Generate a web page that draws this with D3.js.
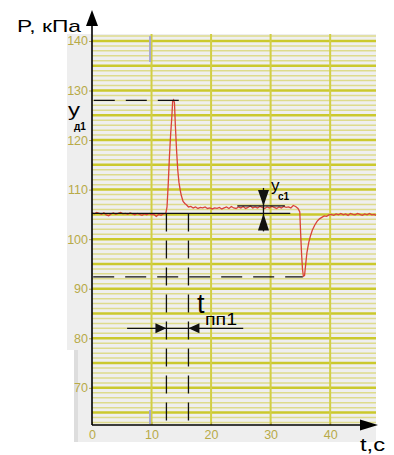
<!DOCTYPE html>
<html>
<head>
<meta charset="utf-8">
<script src="https://cdn.jsdelivr.net/npm/d3@7"></script>
<style>
  body { margin: 0; background: #fff; }
  text { font-family: "Liberation Sans", Arial, sans-serif; }
</style>
</head>
<body>
<svg id="chart"></svg>
<script>
// pressure trace, t in s, P in kPa
const timeValues = [
  0, 0.4, 0.8, 1.2, 1.6, 2.0, 2.4, 2.8, 3.2, 3.6, 4.0, 4.4, 4.8, 5.2, 5.6, 6.0, 6.4, 6.8, 7.2, 7.6,
  8.0, 8.4, 8.8, 9.2, 9.6, 10.0, 10.4, 10.8, 11.2, 11.6, 12.0, 12.4, 12.6, 12.8, 13.0, 13.2, 13.4, 13.55, 13.7, 13.85,
  14.0, 14.2, 14.4, 14.6, 14.8, 15.0, 15.3, 15.6, 15.9, 16.2, 16.6, 17.0, 17.4, 17.8, 18.2, 18.6, 19.0, 19.4, 19.8, 20.2,
  20.6, 21.0, 21.4, 21.8, 22.2, 22.6, 23.0, 23.4, 23.8, 24.2, 24.6, 25.0, 25.4, 25.8, 26.2, 26.6, 27.0, 27.4, 27.8, 28.2,
  28.6, 29.0, 29.4, 29.8, 30.2, 30.6, 31.0, 31.4, 31.8, 32.2, 32.6, 33.0, 33.4, 33.8, 34.2, 34.6, 34.9, 35.05, 35.2, 35.35,
  35.5, 35.7, 35.9, 36.1, 36.4, 36.7, 37.0, 37.4, 37.8, 38.2, 38.6, 39.0, 39.4, 39.8, 40.2, 40.6, 41.0, 41.4, 41.8, 42.2,
  42.6, 43.0, 43.4, 43.8, 44.2, 44.6, 45.0, 45.4, 45.8, 46.2, 46.6, 47.0, 47.4, 47.7
];
const pressureValues = [
  105.3, 105.1, 105.4, 105.2, 105.0, 105.3, 104.9, 104.7, 105.1, 105.3, 105.0, 105.2, 105.4, 105.1, 105.2, 105.0, 105.3, 105.1, 104.9, 105.2,
  105.0, 104.8, 105.1, 104.9, 105.2, 104.9, 105.0, 104.6, 105.0, 104.8, 105.1, 105.2, 106.5, 111.0, 116.5, 121.0, 124.5, 127.9, 128.1, 127.5,
  123.0, 118.0, 114.0, 111.5, 110.0, 108.8, 107.6, 107.2, 106.9, 106.5, 106.6, 106.3, 106.5, 106.2, 106.4, 106.3, 106.5, 106.2, 106.3, 106.1,
  106.3, 106.2, 106.4, 106.1, 106.3, 106.5, 106.2, 106.6, 106.3, 106.2, 106.5, 106.3, 106.6, 106.2, 106.4, 106.7, 106.3, 106.5, 106.3, 106.6,
  106.4, 106.2, 106.5, 106.3, 106.6, 106.4, 106.2, 106.5, 106.3, 106.6, 106.4, 106.5, 106.3, 106.8, 106.6, 106.2, 105.5, 101.0, 97.0, 94.0,
  92.5, 92.7, 95.0, 97.3, 99.3, 100.7, 101.8, 102.8, 103.6, 104.1, 104.4, 104.7, 104.6, 104.9, 105.0, 104.8, 105.1, 104.9, 105.2, 104.9,
  105.1, 104.8, 105.2, 105.0, 104.9, 105.2, 105.0, 104.8, 105.1, 104.9, 105.2, 104.9, 105.0, 104.8
];
const yTicks = [70, 80, 90, 100, 110, 120, 130, 140];
const xTicks = [0, 10, 20, 30, 40];

// annotation levels
const peakLevel = 128;
const baseLevel = 105.2;
const settleLevel = 106.7;
const dropLevel = 92.4;
const tStart = 12.5;
const tEnd = 16.2;
const tArrow = 28.8;
const arrowLevel = 82;

const width = 394;
const height = 455;

const svg = d3.select("#chart")
  .attr("width", width)
  .attr("height", height);

const x = d3.scaleLinear().domain([0, 47.7]).range([92, 376]);
const y = d3.scaleLinear().domain([62.5, 141.4]).range([425, 34]);

// grey panel behind the plot
svg.append("rect").attr("x", 67).attr("y", 34).attr("width", 25).attr("height", 316).attr("fill", "#eeeeee");
svg.append("rect").attr("x", 74).attr("y", 350).attr("width", 18).attr("height", 92).attr("fill", "#eeeeee");
svg.append("rect").attr("x", 74).attr("y", 350).attr("width", 4).attr("height", 92).attr("fill", "#dddddd");
svg.append("rect").attr("x", 92).attr("y", 425).attr("width", 284).attr("height", 17).attr("fill", "#eeeeee");
svg.append("rect")
  .attr("x", x(0)).attr("y", y(141.4))
  .attr("width", x(47.7) - x(0)).attr("height", y(62.5) - y(141.4))
  .attr("fill", "#efefef");

// horizontal grid every 1 kPa, heavier every 5
const gridLevels = d3.range(63, 142);
svg.append("g")
  .selectAll("line")
  .data(gridLevels)
  .join("line")
  .attr("x1", x(0))
  .attr("x2", x(47.7))
  .attr("y1", d => y(d))
  .attr("y2", d => y(d))
  .attr("stroke", d => d % 5 === 0 ? "#cbc92c" : "#dedb8c")
  .attr("stroke-width", d => d % 5 === 0 ? 2.5 : 1.5);

// vertical grid
svg.append("g")
  .selectAll("line")
  .data(xTicks.slice(1))
  .join("line")
  .attr("x1", d => x(d))
  .attr("x2", d => x(d))
  .attr("y1", y(141.4))
  .attr("y2", y(62.5))
  .attr("stroke", "#d2cf45")
  .attr("stroke-width", 2);

// bluish marks at t = 10
svg.append("line").attr("x1", x(10) - 1.5).attr("x2", x(10) - 1.5).attr("y1", 36).attr("y2", 62)
  .attr("stroke", "#a8a8d0").attr("stroke-width", 2);
svg.append("line").attr("x1", x(10) - 1.5).attr("x2", x(10) - 1.5).attr("y1", 410).attr("y2", 424)
  .attr("stroke", "#a8a8d0").attr("stroke-width", 2);

// axes ticks and labels
const yAxis = svg.append("g")
  .attr("transform", `translate(${x(0)},0)`)
  .call(d3.axisLeft(y).tickValues(yTicks).tickSize(3).tickPadding(1));
yAxis.select(".domain").remove();
yAxis.selectAll("line").attr("stroke", "#b8aa48");
yAxis.selectAll("text").attr("fill", "#b8aa48").attr("font-size", "12.5px")
  .attr("font-family", "Liberation Sans, Arial, sans-serif");

const xAxis = svg.append("g")
  .attr("transform", `translate(0,${y(62.5)})`)
  .call(d3.axisBottom(x).tickValues(xTicks).tickSize(3).tickPadding(2));
xAxis.select(".domain").remove();
xAxis.selectAll("line").attr("stroke", "#b8aa48").attr("transform", "translate(0,-3)");
xAxis.selectAll("text").attr("fill", "#b8aa48").attr("font-size", "12.5px")
  .attr("font-family", "Liberation Sans, Arial, sans-serif");

// red signal
const trace = timeValues.map((t, i) => ({ t: t, p: pressureValues[i] }));
svg.append("path")
  .datum(trace)
  .attr("d", d3.line().x(d => x(d.t)).y(d => y(d.p)))
  .attr("fill", "none")
  .attr("stroke", "#d9433b")
  .attr("stroke-width", 1.3);

// annotations
const ann = svg.append("g").attr("stroke", "#111").attr("stroke-width", 1.3).attr("fill", "none");

ann.append("line")
  .attr("x1", x(0.3)).attr("x2", x(14.8))
  .attr("y1", y(peakLevel)).attr("y2", y(peakLevel))
  .attr("stroke-dasharray", "21,11");

ann.append("line")
  .attr("x1", x(0)).attr("x2", x(33.3))
  .attr("y1", y(baseLevel)).attr("y2", y(baseLevel));

ann.append("line")
  .attr("x1", x(24.4)).attr("x2", x(32.4))
  .attr("y1", y(settleLevel)).attr("y2", y(settleLevel));

ann.append("line")
  .attr("x1", x(0.2)).attr("x2", x(35.4))
  .attr("y1", y(dropLevel)).attr("y2", y(dropLevel))
  .attr("stroke-dasharray", "21,11");

[tStart, tEnd].forEach(t => {
  ann.append("line")
    .attr("x1", x(t)).attr("x2", x(t))
    .attr("y1", y(baseLevel)).attr("y2", y(62.5))
    .attr("stroke-dasharray", "18,9");
});

// vertical double arrow for у с1
ann.append("line")
  .attr("x1", x(tArrow)).attr("x2", x(tArrow))
  .attr("y1", y(settleLevel) - 18).attr("y2", y(baseLevel) + 18);
const tri = (pts) => "M" + pts.map(p => p.join(",")).join("L") + "Z";
const ax = x(tArrow);
svg.append("path")
  .attr("d", tri([[ax, y(settleLevel)], [ax - 5.5, y(settleLevel) - 16], [ax + 5.5, y(settleLevel) - 16]]))
  .attr("fill", "#111");
svg.append("path")
  .attr("d", tri([[ax, y(baseLevel)], [ax - 5.5, y(baseLevel) + 17], [ax + 5.5, y(baseLevel) + 17]]))
  .attr("fill", "#111");

// horizontal arrows for t пп1
ann.append("line")
  .attr("x1", x(5.9)).attr("x2", x(25.4))
  .attr("y1", y(arrowLevel)).attr("y2", y(arrowLevel));
const ay = y(arrowLevel);
svg.append("path")
  .attr("d", tri([[x(tStart), ay], [x(tStart) - 11, ay - 5], [x(tStart) - 11, ay + 5]]))
  .attr("fill", "#111");
svg.append("path")
  .attr("d", tri([[x(tEnd), ay], [x(tEnd) + 11, ay - 5], [x(tEnd) + 11, ay + 5]]))
  .attr("fill", "#111");

// axis lines with arrows
svg.append("line").attr("x1", x(0)).attr("x2", x(0)).attr("y1", 20).attr("y2", y(62.5))
  .attr("stroke", "#000").attr("stroke-width", 1.6);
svg.append("line").attr("x1", x(0)).attr("x2", 366).attr("y1", y(62.5)).attr("y2", y(62.5))
  .attr("stroke", "#000").attr("stroke-width", 1.6);
svg.append("path").attr("d", tri([[x(0), 10], [x(0) - 6, 26], [x(0) + 6, 26]])).attr("fill", "#000");
svg.append("path").attr("d", tri([[378, y(62.5)], [360, y(62.5) - 5.5], [360, y(62.5) + 5.5]])).attr("fill", "#000");

// labels
svg.append("text").attr("x", 17).attr("y", 32)
  .attr("font-size", "17px").attr("textLength", 64).attr("lengthAdjust", "spacingAndGlyphs")
  .attr("fill", "#000").text("P, кПа");
svg.append("text").attr("x", 360).attr("y", 451)
  .attr("font-size", "18px").attr("textLength", 25).attr("lengthAdjust", "spacingAndGlyphs")
  .attr("fill", "#000").text("t,с");

svg.append("text").attr("x", 68).attr("y", 116)
  .attr("font-size", "19px").attr("textLength", 12).attr("lengthAdjust", "spacingAndGlyphs")
  .attr("fill", "#000").text("у");
svg.append("text").attr("x", 74).attr("y", 130)
  .attr("font-size", "10px").attr("font-weight", "bold").attr("fill", "#000").text("д1");

svg.append("text").attr("x", 271).attr("y", 191)
  .attr("font-size", "17px").attr("fill", "#000").text("у");
svg.append("text").attr("x", 278).attr("y", 200)
  .attr("font-size", "10px").attr("font-weight", "bold").attr("fill", "#000").text("с1");

svg.append("text").attr("x", 197).attr("y", 313)
  .attr("font-size", "27px").attr("fill", "#000").text("t");
svg.append("text").attr("x", 205).attr("y", 325)
  .attr("font-size", "17px").attr("textLength", 32).attr("lengthAdjust", "spacingAndGlyphs")
  .attr("fill", "#000").text("пп1");
</script>
</body>
</html>
